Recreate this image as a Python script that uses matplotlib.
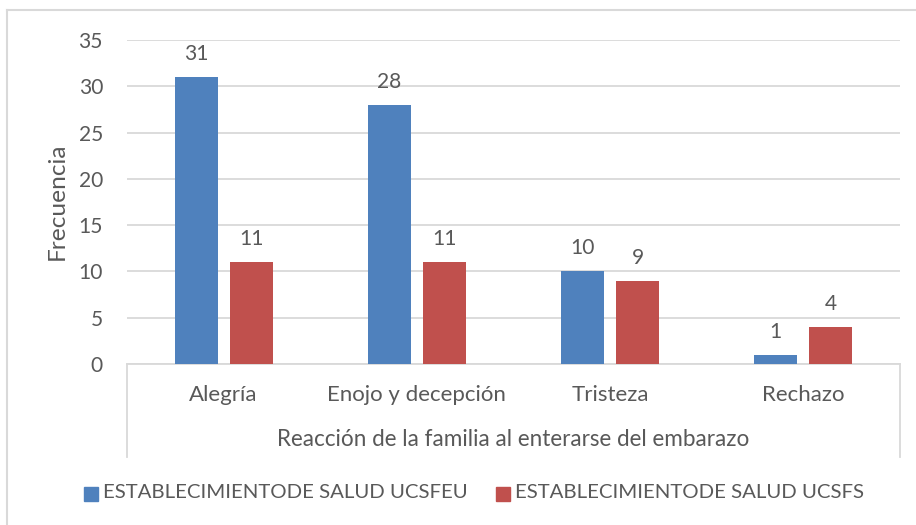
import matplotlib
matplotlib.use("Agg")
import matplotlib.pyplot as plt
from matplotlib.lines import Line2D
from matplotlib.patches import Rectangle
from matplotlib.textpath import TextPath
from matplotlib.font_manager import FontProperties
import numpy as np

categories = ["Alegría", "Enojo y decepción", "Tristeza", "Rechazo"]
series_names = ["ESTABLECIMIENTODE SALUD UCSFEU", "ESTABLECIMIENTODE SALUD UCSFS"]
ucsfeu = [31, 28, 10, 1]
ucsfs = [11, 11, 9, 4]
yticks = [0, 5, 10, 15, 20, 25, 30, 35]
xlabel = "Reacción de la familia al enterarse del embarazo"
ylabel = "Frecuencia"
colors = ["#4F81BD", "#C0504D"]
txt = "#595959"
grid = "#D9D9D9"

FAMILY = 'Lato'
plt.rcParams['font.family'] = [FAMILY, 'DejaVu Sans']

W, H = 916, 525
DPI = 100


def size_for(text, target_px):
    """font size (pt) giving the wanted ink width in pixels"""
    tp = TextPath((0, 0), text, size=10, prop=FontProperties(family=FAMILY))
    ext = tp.get_extents()
    w_pt = ext.width  # in points at size 10
    return 10 * (target_px * 72 / DPI) / w_pt


fs_leg = size_for(series_names[0], 361)
fs_title = size_for(xlabel, 470)
fs_cat = size_for("Enojo y decepción", 175)
fs_ylab = size_for(ylabel, 113)
fs_tick = size_for("10", 22)
fs_lab = size_for("31", 22)

fig = plt.figure(figsize=(W / DPI, H / DPI), dpi=DPI)


def fx(px):
    return px / W


def fy(py):
    return 1 - py / H


L, R, T, B = 127, 900, 40, 364
ax = fig.add_axes([fx(L), fy(B), (R - L) / W, (B - T) / H])

x = np.arange(len(categories))
bw = 0.223
off = 0.1425
for vals, c, dx in [(ucsfeu, colors[0], -off), (ucsfs, colors[1], off)]:
    bars = ax.bar(x + dx, vals, width=bw, color=c, zorder=3)
    for b, v in zip(bars, vals):
        ax.annotate(str(v), (b.get_x() + b.get_width() / 2, v), xytext=(0, 17 * 0.72),
                    textcoords="offset points", ha="center", va="baseline",
                    fontsize=fs_lab, color=txt)

ax.set_xlim(-0.5, len(categories) - 0.5)
ax.set_ylim(0, 35)
ax.set_yticks(yticks)
ax.yaxis.grid(True, color=grid, linewidth=1.3, zorder=0)
ax.set_axisbelow(True)
for s in ["top", "right", "left"]:
    ax.spines[s].set_visible(False)
ax.spines["bottom"].set_color(grid)
ax.spines["bottom"].set_linewidth(1.3)
ax.tick_params(axis="y", length=0, labelsize=fs_tick, labelcolor=txt, pad=24 * 0.72)
ax.set_xticks([])

# category labels
for i, cat in enumerate(categories):
    ax.annotate(cat, (i, 0), xycoords="data", xytext=(0, -31 * 0.72),
                textcoords="offset points", ha="center", va="center",
                fontsize=fs_cat, color=txt)

# category box side lines
for px in (L, R):
    fig.add_artist(Line2D([fx(px), fx(px)], [fy(B), fy(457)], color=grid, linewidth=1.3))

fig.text(fx((L + R) / 2), fy(440), xlabel, ha="center", va="center",
         fontsize=fs_title, color=txt)
fig.text(fx(57), fy(201), ylabel, rotation=90, ha="center", va="center",
         fontsize=fs_ylab, color=txt)

# legend
leg_items = [(84, 103), (496, 515)]
for (sx, tx), name, c in zip(leg_items, series_names, colors):
    fig.add_artist(Rectangle((fx(sx), fy(501)), 14 / W, 14 / H, color=c,
                             transform=fig.transFigure))
    fig.text(fx(tx), fy(493), name, ha="left", va="center", fontsize=fs_leg, color=txt)

# outer frame
fig.add_artist(Line2D([fx(7), fx(7)], [fy(10), 0], color=grid, linewidth=1.5))
fig.add_artist(Line2D([fx(7), 1], [fy(10), fy(10)], color=grid, linewidth=1.5))

fig.savefig("out.png", dpi=DPI)
